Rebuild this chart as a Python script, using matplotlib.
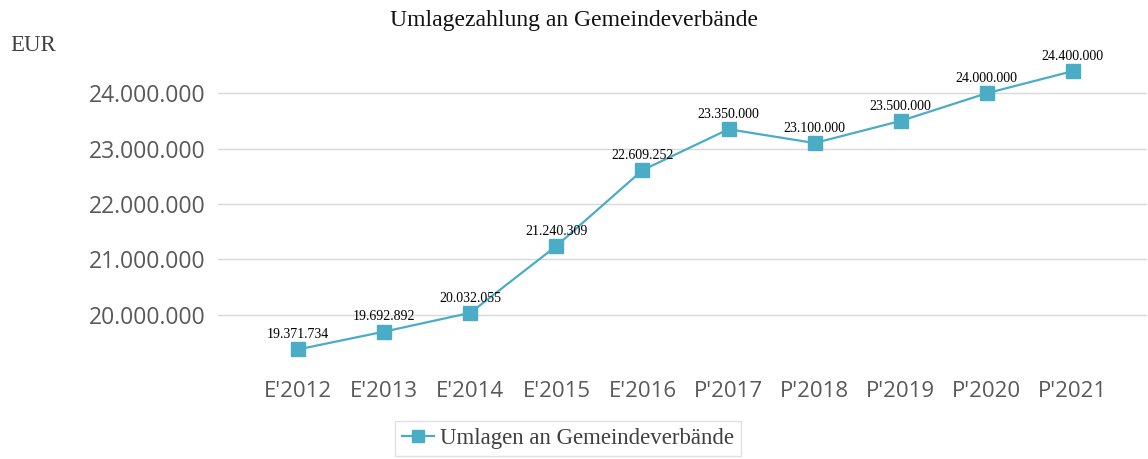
import matplotlib.pyplot as plt
from matplotlib.ticker import FuncFormatter

# data
jahre = ["E'2012", "E'2013", "E'2014", "E'2015", "E'2016",
         "P'2017", "P'2018", "P'2019", "P'2020", "P'2021"]
umlagen = [19371734, 19692892, 20032055, 21240309, 22609252,
           23350000, 23100000, 23500000, 24000000, 24400000]
y_ticks = [20000000, 21000000, 22000000, 23000000, 24000000]

farbe = '#4BACC6'

def de_fmt(v):
    return f"{int(round(v)):,}".replace(",", ".")

fig = plt.figure(figsize=(11.48, 4.59), dpi=100)
ax = fig.add_axes([0.19, 0.194, 0.809, 0.721])

x = list(range(len(jahre)))
ax.plot(x, umlagen, color=farbe, lw=1.6, marker='s', markersize=10,
        label='Umlagen an Gemeindeverbände', zorder=3)

for xi, v in zip(x, umlagen):
    ax.annotate(de_fmt(v), (xi, v), xytext=(0, 6), textcoords='offset points',
                ha='center', va='bottom', fontsize=10, family='Liberation Serif',
                color='black')

ax.set_xlim(-0.93, 9.86)
ax.set_ylim(19000000, 24980000)
ax.set_yticks(y_ticks)
ax.yaxis.set_major_formatter(FuncFormatter(lambda v, p: de_fmt(v)))
ax.set_xticks(x)
ax.set_xticklabels(jahre)
ax.grid(axis='y', color='#d9d9d9', lw=1)
ax.set_axisbelow(True)
for s in ax.spines.values():
    s.set_visible(False)
ax.tick_params(length=0, labelcolor='#595959')
ax.tick_params(axis='x', labelsize=16, pad=8)
ax.tick_params(axis='y', labelsize=16.5, pad=9)
for lab in ax.get_xticklabels() + ax.get_yticklabels():
    lab.set_family('Open Sans')

fig.text(0.5, 0.956, 'Umlagezahlung an Gemeindeverbände', ha='center', va='center',
         fontsize=17, family='Liberation Serif', color='#111111')
fig.text(0.009, 0.9, 'EUR', ha='left', va='center', fontsize=16.5,
         family='Liberation Serif', color='#404040')

leg = fig.legend(loc='upper center', bbox_to_anchor=(0.495, 0.108), frameon=True,
                 fancybox=False, edgecolor='#d9d9d9', handlelength=1.4,
                 handletextpad=0.25, borderpad=0.3, markerscale=0.8,
                 prop={'family': 'Liberation Serif', 'size': 16.5})
for t in leg.get_texts():
    t.set_color('#404040')

fig.savefig('out.png', dpi=100)
